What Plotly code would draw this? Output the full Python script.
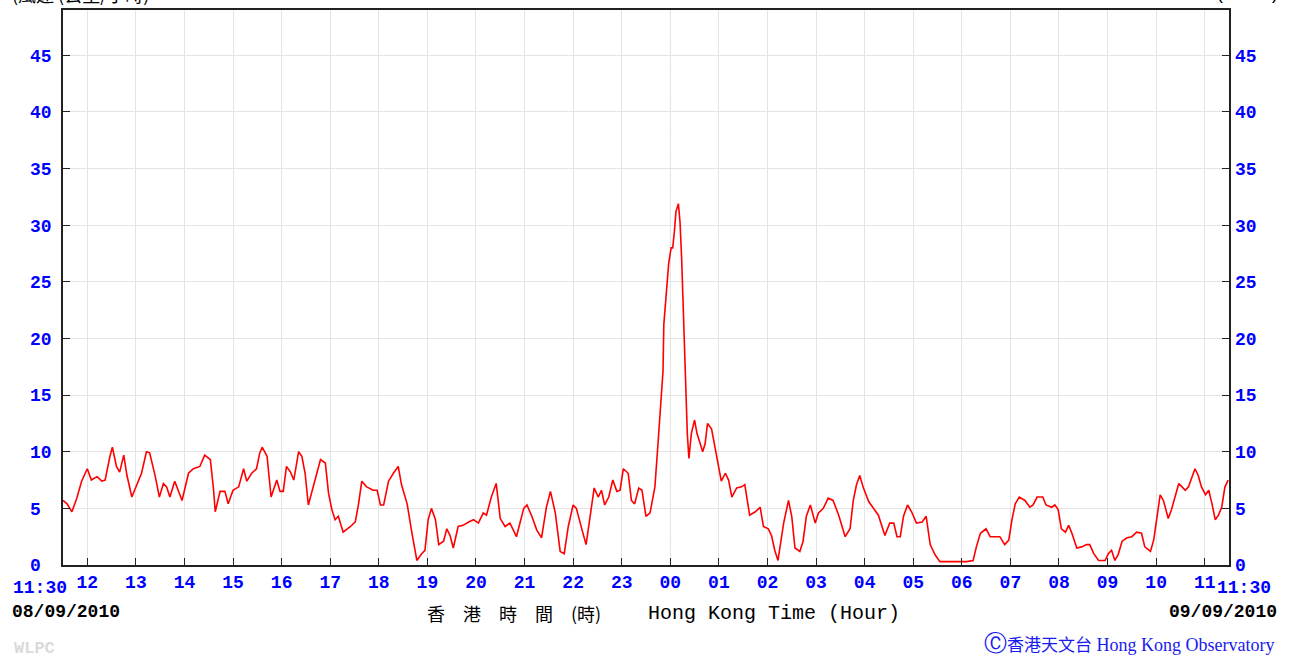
import plotly.graph_objects as go
from datetime import datetime, timedelta

# ---- data (10-min mean wind speed, km/h), HK time from 08/09/2010 11:30 ----
TIMES = ["11:30","11:35","11:41","11:47","11:53","12:00","12:05","12:12","12:18","12:22","12:28","12:31",
         "12:36","12:40","12:45","12:49","12:55","13:01","13:07","13:13","13:17","13:24","13:29","13:34",
         "13:38","13:42","13:48","13:57","14:05","14:11","14:19","14:25","14:32","14:36","14:38","14:44",
         "14:50","14:54","15:00","15:07","15:13","15:17","15:23","15:29","15:33","15:36","15:42","15:47",
         "15:54","15:58","16:02","16:06","16:11","16:15","16:21","16:25","16:29","16:33","16:39","16:48",
         "16:54","16:58","17:02","17:06","17:10","17:16","17:25","17:31","17:35","17:39","17:45","17:53",
         "17:58","18:02","18:06","18:12","18:18","18:24","18:28","18:35","18:41","18:47","18:53","18:57",
         "19:01","19:05","19:10","19:14","19:20","19:24","19:28","19:32","19:38","19:44","19:51","19:57",
         "20:03","20:09","20:13","20:19","20:25","20:30","20:36","20:42","20:50","20:59","21:03","21:09",
         "21:15","21:21","21:27","21:32","21:38","21:44","21:49","21:54","22:00","22:04","22:11","22:16",
         "22:21","22:26","22:31","22:35","22:39","22:44","22:49","22:54","22:58","23:02","23:08","23:12",
         "23:16","23:21","23:25","23:30","23:35","23:41","23:45","23:48","23:51","23:52","23:56","23:58",
         "00:01","00:03","00:05","00:07","00:10","00:12","00:14","00:16","00:19","00:21","00:23","00:26",
         "00:30","00:33","00:37","00:40","00:43","00:46","00:51","00:55","00:58","01:01","01:03","01:08",
         "01:12","01:16","01:22","01:28","01:32","01:38","01:45","01:51","01:55","02:01","02:05","02:09",
         "02:13","02:20","02:26","02:30","02:34","02:40","02:44","02:48","02:53","02:59","03:03","03:09",
         "03:15","03:21","03:28","03:36","03:42","03:46","03:50","03:54","03:58","04:05","04:11","04:17",
         "04:25","04:31","04:36","04:40","04:44","04:48","04:53","04:58","05:04","05:11","05:16","05:21",
         "05:27","05:33","05:50","06:06","06:14","06:18","06:23","06:30","06:35","06:47","06:53","06:58",
         "07:02","07:06","07:11","07:18","07:24","07:28","07:33","07:40","07:44","07:51","07:55","07:59",
         "08:03","08:08","08:12","08:16","08:22","08:28","08:34","08:38","08:43","08:49","08:57","09:01",
         "09:05","09:09","09:13","09:18","09:24","09:30","09:36","09:42","09:46","09:53","09:57","10:01",
         "10:05","10:09","10:15","10:19","10:24","10:28","10:32","10:36","10:40","10:44","10:48","10:52",
         "10:56","11:01","11:05","11:09","11:13","11:17","11:21","11:25","11:29"]

SPEED = [5.7,5.4,4.7,5.9,7.4,8.5,7.5,7.8,7.4,7.5,9.6,10.4,
         8.7,8.2,9.7,7.9,6.0,7.1,8.1,10.0,9.9,7.8,6.0,7.2,
         6.9,6.0,7.4,5.7,8.1,8.5,8.7,9.7,9.3,6.6,4.7,6.5,
         6.5,5.4,6.6,6.9,8.5,7.4,8.1,8.5,9.9,10.4,9.6,6.0,
         7.5,6.5,6.5,8.7,8.2,7.5,10.0,9.6,8.1,5.3,6.9,9.3,
         9.0,6.3,4.9,4.0,4.3,2.9,3.4,3.8,5.4,7.4,6.9,6.6,
         6.6,5.3,5.3,7.4,8.1,8.7,7.1,5.4,2.8,0.4,1.0,1.3,
         4.0,5.0,4.0,1.8,2.1,3.2,2.6,1.5,3.4,3.5,3.8,4.0,
         3.7,4.6,4.4,6.0,7.2,4.1,3.4,3.7,2.5,5.0,5.3,4.3,
         3.1,2.4,5.1,6.5,4.6,1.2,1.0,3.4,5.3,5.0,3.1,1.8,
         4.3,6.8,6.0,6.6,5.3,6.0,7.5,6.5,6.6,8.5,8.1,5.7,
         5.4,6.8,6.6,4.3,4.6,6.9,10.9,14.2,17.1,21.2,24.7,26.6,
         28.0,28.0,29.4,31.2,31.9,30.3,27.1,22.1,16.0,11.6,9.4,11.6,
         12.8,11.6,10.7,10.0,10.7,12.5,12.0,10.4,9.2,8.0,7.4,8.1,
         7.5,6.0,6.8,6.9,7.1,4.4,4.7,5.1,3.4,3.2,2.6,1.3,
         0.4,3.7,5.7,4.3,1.5,1.2,2.1,4.3,5.3,3.7,4.6,5.0,
         5.9,5.7,4.4,2.5,3.2,5.7,7.1,7.9,6.9,5.6,5.0,4.4,
         2.6,3.7,3.7,2.5,2.5,4.3,5.3,4.7,3.7,3.8,4.3,1.8,
         0.9,0.3,0.3,0.3,0.4,1.6,2.8,3.2,2.5,2.5,1.8,2.2,
         4.0,5.4,6.0,5.7,5.1,5.3,6.0,6.0,5.3,5.1,5.3,4.9,
         3.2,2.9,3.5,2.8,1.5,1.6,1.8,1.8,1.0,0.4,0.4,1.0,
         1.3,0.4,0.9,2.1,2.4,2.5,2.9,2.8,1.6,1.2,2.2,4.3,
         6.2,5.7,4.1,4.9,6.3,7.2,6.9,6.6,6.9,7.8,8.5,7.9,
         6.9,6.2,6.6,5.4,4.0,4.4,5.1,6.9,7.5]

START = "2010-09-08 11:30"
END = "2010-09-09 11:30"
Y_TICKS = [0, 5, 10, 15, 20, 25, 30, 35, 40, 45]
HOUR_LABELS = ["12","13","14","15","16","17","18","19","20","21","22","23",
               "00","01","02","03","04","05","06","07","08","09","10","11"]
EDGE_LABEL = "11:30"

# ---- build datetimes with day rollover ----
base = datetime.strptime(START, "%Y-%m-%d %H:%M")
xs = []
day = base.date()
prev = None
for t in TIMES:
    h, m = map(int, t.split(":"))
    if prev is not None and (h, m) < prev:
        day = day + timedelta(days=1)
    prev = (h, m)
    xs.append(datetime(day.year, day.month, day.day, h, m))

end_dt = datetime.strptime(END, "%Y-%m-%d %H:%M")
hour_vals = [base + timedelta(minutes=30 + 60 * i) for i in range(len(HOUR_LABELS))]
nb = "\u00a0"
y_ticktext_left = [(str(v) + nb) if v < 10 else str(v) for v in Y_TICKS]

BLUE = "#0000ff"
GRID = "#e4e4e4"
FRAME = "#222222"
TICKFONT = dict(family="Liberation Mono", size=18, color=BLUE, weight="bold")

fig = go.Figure()
fig.add_trace(go.Scatter(x=xs, y=SPEED, mode="lines",
                         line=dict(color="#ff0000", width=1.6),
                         hoverinfo="x+y", showlegend=False))
fig.add_trace(go.Scatter(x=[], y=[], yaxis="y2", showlegend=False))

fig.update_layout(
    width=1298, height=657,
    paper_bgcolor="white", plot_bgcolor="white",
    margin=dict(l=63, r=69, t=10, b=92, autoexpand=False),
    xaxis=dict(type="date", range=[base, end_dt],
               tickmode="array", tickvals=hour_vals, ticktext=HOUR_LABELS, tickangle=0,
               tickfont=TICKFONT,
               ticks="inside", ticklen=7, tickcolor=FRAME, tickwidth=1,
               showgrid=True, gridcolor=GRID, gridwidth=1,
               showline=True, linecolor=FRAME, linewidth=1.5, mirror=True,
               zeroline=False, ticklabelstandoff=0),
    yaxis=dict(range=[0, 49], tickmode="array", tickvals=Y_TICKS, ticktext=y_ticktext_left,
               tickfont=TICKFONT,
               ticks="inside", ticklen=7, tickcolor=FRAME,
               showgrid=True, gridcolor=GRID, gridwidth=1,
               showline=True, linecolor=FRAME, linewidth=1.5, mirror=True,
               zeroline=False, ticklabelstandoff=6),
    yaxis2=dict(range=[0, 49], overlaying="y", side="right",
                tickmode="array", tickvals=Y_TICKS, ticktext=[str(v) for v in Y_TICKS],
                tickfont=TICKFONT,
                ticks="inside", ticklen=7, tickcolor=FRAME,
                showgrid=False, zeroline=False, showline=False, ticklabelstandoff=5),
)

# 00:00 line dashed instead of solid grid
midnight = base + timedelta(minutes=750)
fig.add_shape(type="line", xref="x", yref="paper", x0=midnight, x1=midnight, y0=0, y1=1,
              line=dict(color="white", width=2), layer="between")
fig.add_shape(type="line", xref="x", yref="paper", x0=midnight, x1=midnight, y0=0, y1=1,
              line=dict(color="#dddddd", width=1, dash="6px,5px"), layer="between")

PW = 1166.0
PH = 555.0
def px(xp):
    return (xp - 63) / PW
def py(yp):
    return (565 - yp) / PH

ann = []
# edge time labels (start / end of the 24-h window)
ann.append(dict(text=EDGE_LABEL, x=px(68), y=py(576.5), xanchor="right", yanchor="top",
                font=TICKFONT, borderpad=0))
ann.append(dict(text=EDGE_LABEL, x=px(1216), y=py(576.5), xanchor="left", yanchor="top",
                font=TICKFONT, borderpad=0))
ann.append(dict(text="08/09/2010", x=px(10), y=py(612), xanchor="left", yanchor="middle",
                font=dict(family="Liberation Mono", size=18, color="#000000", weight="bold")))
ann.append(dict(text="09/09/2010", x=px(1279), y=py(612), xanchor="right", yanchor="middle",
                font=dict(family="Liberation Mono", size=18, color="#000000", weight="bold")))
ann.append(dict(text="香\u3000港\u3000時\u3000間\u3000(時)", x=px(425), y=py(613), xanchor="left",
                yanchor="middle", font=dict(family="Noto Sans CJK TC", size=18, color="#000000")))
ann.append(dict(text="Hong Kong Time (Hour)", x=px(646), y=py(613), xanchor="left",
                yanchor="middle", font=dict(family="Liberation Mono", size=20, color="#000000")))
ann.append(dict(text="WLPC", x=px(12), y=py(648), xanchor="left", yanchor="middle",
                font=dict(family="Liberation Mono", size=17, color="#dadada", weight="bold")))
ann.append(dict(text="<span style='font-family:DejaVu Sans;font-size:23px'>Ⓒ</span>"
                     "<span style='font-family:Noto Sans CJK TC;font-size:17px'>香港天文台</span> "
                     "Hong Kong Observatory",
                x=px(1276), y=py(643), xanchor="right", yanchor="middle",
                font=dict(family="Liberation Serif", size=18, color="#1a1aee")))
ann.append(dict(text="(風速 (公里/小時)", x=px(10), y=py(-6), xanchor="left", yanchor="middle",
                font=dict(family="Noto Sans CJK TC", size=18, color="#000000")))
ann.append(dict(text="(Km/H)", x=px(1282), y=py(-6), xanchor="right", yanchor="middle",
                font=dict(family="Liberation Mono", size=18, color="#000000")))
for a in ann:
    a.update(xref="paper", yref="paper", showarrow=False)
fig.update_layout(annotations=ann)

fig.write_html("out.html", config={"displayModeBar": False},
               post_script="document.body.style.margin='0';document.body.style.overflow='hidden';")
